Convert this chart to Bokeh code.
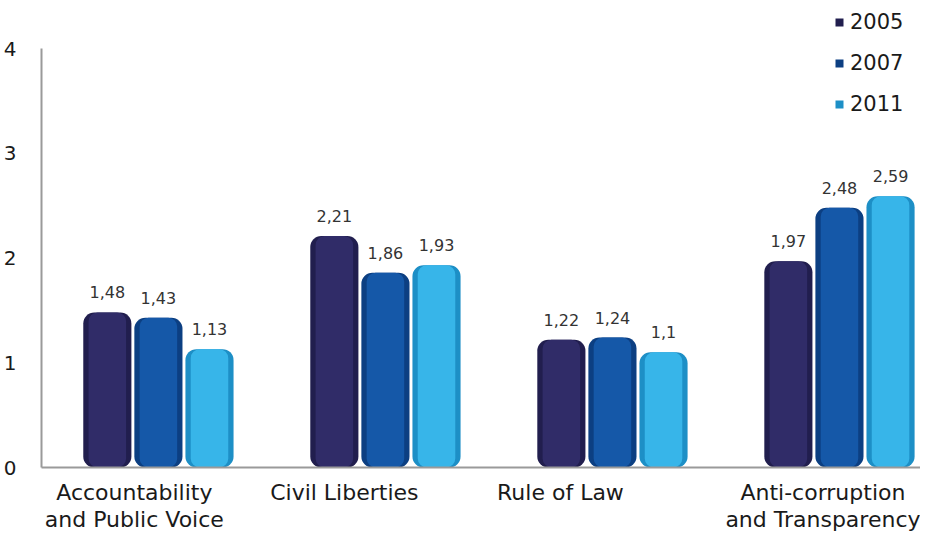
from bokeh.plotting import figure
from bokeh.models import ColumnDataSource, FixedTicker, Legend, LegendItem
from bokeh.core.properties import value
from bokeh.embed import file_html
from bokeh.resources import INLINE

categories = ["Accountability\nand Public Voice", "Civil Liberties", "Rule of Law", "Anti-corruption\nand Transparency"]
years = ["2005", "2007", "2011"]
v2005 = [1.48, 2.21, 1.22, 1.97]
v2007 = [1.43, 1.86, 1.24, 2.48]
v2011 = [1.13, 1.93, 1.10, 2.59]
y_ticks = [0, 1, 2, 3, 4]

series = [v2005, v2007, v2011]
colors = ["#302c68", "#1558a8", "#37b5e9"]
edge_colors = ["#211e4e", "#0c3f82", "#1d8fc6"]
offsets = [-0.225, 0.0, 0.225]
bar_w = 0.212
label_nudge = [-0.106, -0.181, -0.229, -0.066]  # category label placement tweak

FONT = "DejaVu Sans"

p = figure(width=920, height=534, output_backend="svg", toolbar_location=None,
           x_range=(-0.515, 3.357), y_range=(0, 4.363),
           min_border_left=38, min_border_right=0, min_border_top=10, min_border_bottom=67)
p.outline_line_color = None
p.xgrid.visible = False
p.ygrid.visible = False
p.background_fill_color = "white"
p.border_fill_color = "white"

items = []
for i, (vals, c, ec, off, yr) in enumerate(zip(series, colors, edge_colors, offsets, years)):
    xs = [k + off for k in range(len(vals))]
    src = ColumnDataSource(dict(x=xs, top=vals,
                                lab=[f"{v:g}".replace(".", ",") for v in vals]))
    r = p.vbar(x="x", top="top", bottom=0, width=bar_w, source=src,
               fill_color=ec, line_color=None, border_radius=11)
    p.vbar(x="x", top="top", bottom=0, width=bar_w * 0.78, source=src,
           fill_color=c, line_color=None, border_radius=9)
    p.text(x="x", y="top", text="lab", source=src, text_align="center",
           text_baseline="bottom", y_offset=-14, text_font=value(FONT),
           text_font_size="16px", text_color="#333333")
    items.append(LegendItem(label=yr, renderers=[r]))

legend = Legend(items=items, location=(793, 351), padding=0, spacing=17,
                glyph_width=10, glyph_height=10, label_standoff=6,
                label_text_font=FONT, label_text_font_size="21px",
                label_text_color="#1a1a1a", border_line_color=None,
                background_fill_alpha=0)
p.add_layout(legend)

# y axis
p.yaxis.ticker = FixedTicker(ticks=y_ticks)
p.yaxis.bounds = (0, 4)
p.yaxis.major_tick_line_color = None
p.yaxis.minor_tick_line_color = None
p.yaxis.major_label_standoff = 19
p.yaxis.major_label_text_font = FONT
p.yaxis.major_label_text_font_size = "20px"
p.yaxis.major_label_text_color = "#1a1a1a"
p.yaxis.axis_line_color = "#9a9a9a"
p.yaxis.axis_line_width = 2

# x axis
tick_pos = [k + n for k, n in enumerate(label_nudge)]
p.xaxis.ticker = FixedTicker(ticks=tick_pos)
p.xaxis.major_label_overrides = {t: c for t, c in zip(tick_pos, categories)}
p.xaxis.major_tick_line_color = None
p.xaxis.minor_tick_line_color = None
p.xaxis.major_label_standoff = 6
p.xaxis.major_label_text_font = FONT
p.xaxis.major_label_text_font_size = "22px"
p.xaxis.major_label_text_line_height = 1.08
p.xaxis.major_label_text_color = "#1a1a1a"
p.xaxis.axis_line_color = "#9a9a9a"
p.xaxis.axis_line_width = 2

open("out.html", "w").write(file_html(p, INLINE))
